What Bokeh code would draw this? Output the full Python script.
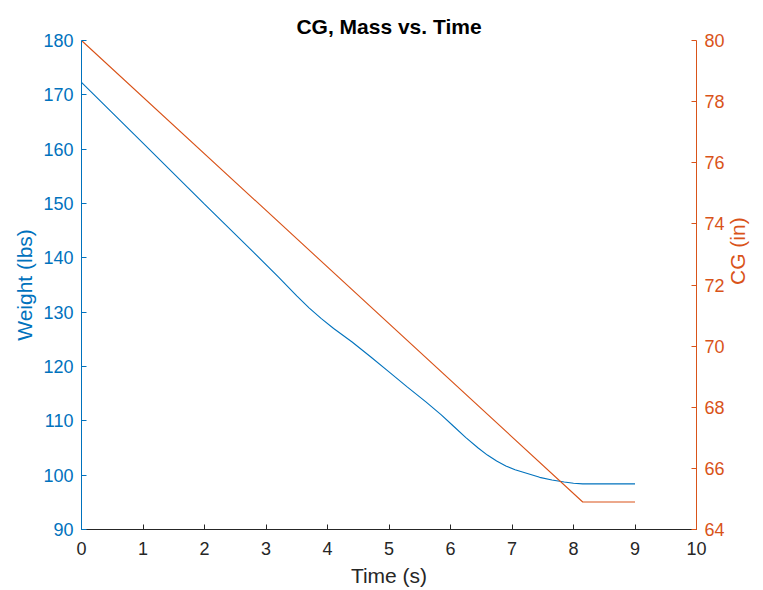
import math
from bokeh.plotting import figure
from bokeh.models import Range1d, LinearAxis, FixedTicker
from bokeh.embed import file_html
from bokeh.resources import INLINE

# Data
time_w = [0, 1, 2, 2.8, 3.2, 3.5, 3.7, 3.9, 4.1, 4.4, 4.7, 5.0, 5.3, 5.6, 5.85, 6.05, 6.25,
          6.45, 6.6, 6.75, 6.9, 7.05, 7.25, 7.45, 7.65, 7.85, 8.0, 8.15, 9]
weight = [172.3, 161.1, 149.9, 141.0, 136.5, 133.0, 130.8, 128.8, 127.0, 124.5, 121.8, 119.0,
          116.2, 113.5, 111.1, 109.0, 106.9, 105.0, 103.7, 102.6, 101.7, 101.0, 100.3, 99.6,
          99.1, 98.75, 98.5, 98.4, 98.4]
time_cg = [0, 8.15, 9]
cg = [80, 64.9, 64.9]

x_ticks = [0, 1, 2, 3, 4, 5, 6, 7, 8, 9, 10]
w_ticks = [90, 100, 110, 120, 130, 140, 150, 160, 170, 180]
cg_ticks = [64, 66, 68, 70, 72, 74, 76, 78, 80]

BLUE = "#0072BD"
ORANGE = "#D95319"
DARK = "#262626"
FONT = "Liberation Sans"

p = figure(width=763, height=590, output_backend="svg", toolbar_location=None,
           x_range=Range1d(0, 10), y_range=Range1d(90, 180),
           min_border_left=81, min_border_right=65, min_border_top=40, min_border_bottom=61,
           title="CG, Mass vs. Time")
p.extra_y_ranges = {"cg": Range1d(64, 80)}

p.title.text_font = FONT
p.title.text_font_size = "21px"
p.title.text_font_style = "bold"
p.title.text_color = "#000000"
p.title.align = "center"
p.title.standoff = 6

p.outline_line_color = None
p.xgrid.visible = False
p.ygrid.visible = False
p.background_fill_color = "white"
p.border_fill_color = "white"

def style_axis(ax, color, label):
    ax.axis_label = label
    ax.axis_label_text_font = FONT
    ax.axis_label_text_font_size = "21px"
    ax.axis_label_text_font_style = "normal"
    ax.axis_label_text_color = color
    ax.major_label_text_font = FONT
    ax.major_label_text_font_size = "18px"
    ax.major_label_text_color = color
    ax.axis_line_color = color
    ax.axis_line_width = 1
    ax.major_tick_line_color = color
    ax.major_tick_in = 5
    ax.major_tick_out = 0
    ax.minor_tick_line_color = None

xa = p.xaxis[0]
style_axis(xa, DARK, "Time (s)")
xa.ticker = FixedTicker(ticks=x_ticks)
xa.major_label_standoff = 12
xa.axis_label_standoff = 6

ya = p.yaxis[0]
style_axis(ya, BLUE, "Weight (lbs)")
ya.ticker = FixedTicker(ticks=w_ticks)
ya.major_label_standoff = 8
ya.axis_label_standoff = 4

ra = LinearAxis(y_range_name="cg")
style_axis(ra, ORANGE, "CG (in)")
ra.ticker = FixedTicker(ticks=cg_ticks)
ra.major_label_standoff = 8
ra.axis_label_standoff = 10
if "axis_label_orientation" in ra.properties():
    ra.axis_label_orientation = math.pi / 2
p.add_layout(ra, "right")

p.line(time_w, weight, line_color=BLUE, line_width=1.1)
p.line(time_cg, cg, line_color=ORANGE, line_width=1.1, y_range_name="cg")

open("out.html", "w").write(file_html(p, INLINE))
